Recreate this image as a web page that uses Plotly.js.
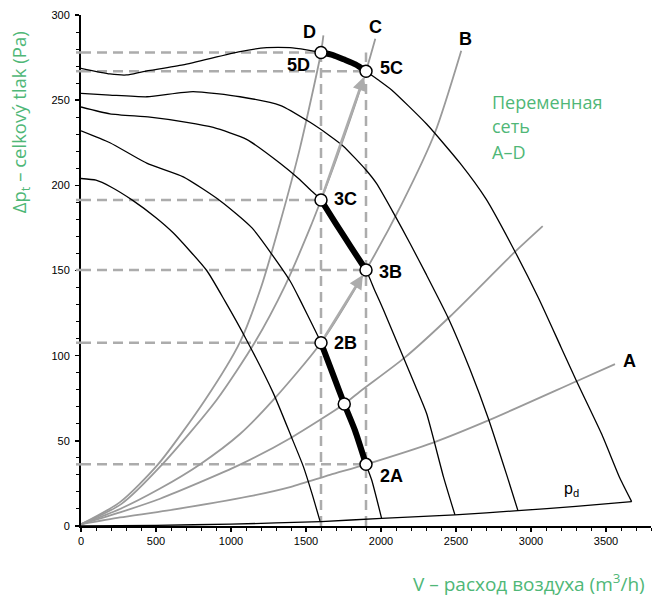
<!DOCTYPE html>
<html><head><meta charset="utf-8">
<script src="https://cdn.plot.ly/plotly-3.0.1.min.js"></script>
<style>html,body{margin:0;padding:0;background:#fff}</style>
</head><body>
<div id="chart" style="width:655px;height:597px"></div>
<script>
// ---- Fan characteristic curves (speed steps 1..5), V [m3/h] vs dp_t [Pa]
const fan1X = [0, 100, 200, 347, 500, 616, 838, 960, 1093, 1282, 1404, 1482, 1540, 1593];
const fan1Y = [204, 203, 199, 191, 181, 172, 150, 132, 111, 78, 52, 35, 19, 3];
const fan2X = [0, 193, 438, 682, 927, 1140, 1393, 1470, 1549, 1600, 1680, 1755, 1827, 1900, 1938, 2004];
const fan2Y = [232, 225, 213, 205, 191, 175, 144, 131, 117, 107.6, 89, 71.6, 56, 36.2, 27, 4.5];
const fan3X = [0, 193, 460, 705, 882, 1104, 1327, 1450, 1527, 1600, 1700, 1800, 1900, 1960, 2016, 2149, 2230, 2304, 2416, 2493];
const fan3Y = [246, 242, 240, 237, 234, 227, 213, 204, 197.5, 191.4, 177.4, 163.7, 150.3, 138, 127, 99, 82, 66, 29, 6.5];
const fan4X = [0, 193, 440, 747, 1060, 1327, 1527, 1660, 1749, 1900, 1971, 2082, 2193, 2300, 2449, 2593, 2716, 2838, 2913];
const fan4Y = [254, 253, 252, 255, 252, 247, 237, 229, 223, 209, 201, 184, 166, 148, 122, 92, 63, 30, 9];
const fan5X = [0, 193, 305, 415, 680, 1060, 1238, 1393, 1504, 1600, 1680, 1750, 1830, 1900, 1980, 2071, 2304, 2527, 2700, 2870, 3049, 3200, 3304, 3471, 3593, 3671];
const fan5Y = [268.7, 265.4, 264.8, 266.8, 270.7, 278.5, 280.8, 280.8, 279.5, 278, 276.5, 274, 271, 267, 262, 256, 236, 213, 192, 165, 134, 105, 85, 54, 28, 14.3];

// ---- Operating ranges (thick segments)
const op2X = [1600, 1680, 1755, 1827, 1900];
const op2Y = [107.6, 89, 71.6, 56, 36.2];
const op3X = [1600, 1700, 1800, 1900];
const op3Y = [191.4, 177.4, 163.7, 150.3];
const op5X = [1600, 1680, 1750, 1830, 1900];
const op5Y = [278, 276.5, 274, 271, 267];

// ---- Dynamic pressure p_d
const pdX = [0, 500, 1000, 1600, 2004, 2493, 2913, 3300, 3671];
const pdY = [0, 0.4, 1.1, 2.6, 4.5, 6.5, 9, 11.5, 14.3];

// ---- System (network) curves A..D and an intermediate one
const sysDX = [0, 260, 512, 827, 1060, 1200, 1327, 1460, 1600, 1616];
const sysDY = [1, 14, 36, 74, 108, 140, 178, 222, 278, 288];
const sysCX = [0, 270, 540, 904, 1160, 1360, 1527, 1600, 1704, 1900, 1962];
const sysCY = [1, 13, 36, 74, 108, 141, 175, 191.4, 216, 267, 286];
const sysBX = [0, 260, 527, 790, 1060, 1282, 1600, 1900, 2138, 2360, 2535];
const sysBY = [1, 10, 22, 36, 54, 74, 107.6, 150.3, 189, 231, 279];
const sysMX = [0, 260, 527, 1060, 1404, 1755, 1860, 2160, 2460, 2882, 3078];
const sysMY = [1, 8, 16, 36, 52, 71.6, 79, 99, 123, 160, 176];
const sysAX = [0, 260, 571, 1127, 1400, 1660, 1900, 2349, 2716, 3304, 3560];
const sysAY = [1, 5, 9, 17.5, 23, 30, 36.2, 49, 62, 85, 95];

// ---- Operating points
const ptNames = ['5D', '5C', '3C', '3B', '2B', 'mid', '2A'];
const ptX = [1600, 1900, 1600, 1900, 1600, 1755, 1900];
const ptY = [278, 267, 191.4, 150.3, 107.6, 71.6, 36.2];

// ---- Reference (dashed) lines: horizontal levels and their end flow
const hLevelY = [278, 267, 191.4, 150.3, 107.6, 36.2];
const hLevelX = [1600, 1900, 1600, 1900, 1600, 1900];
const vLineX = [1600, 1900];
const vLineTop = [278, 278];

// ---- Arrows (from -> to)
const arrFromX = [1600, 1600], arrFromY = [107.6, 191.4];
const arrToX = [1900, 1900], arrToY = [150.3, 267];

// ---- Point / curve labels
const lblText = ['D', 'C', 'B', 'A', '5D', '5C', '3C', '3B', '2B', '2A'];
const lblX = [1523, 1960, 2560, 3657, 1453, 2070, 1760, 2060, 1760, 2067];
const lblY = [290.3, 293, 286.2, 96.6, 270.7, 268.6, 192, 149.4, 107.2, 29.6];

const GREEN = '#4fb777';
const GRAY_SYS = '#9a9a9a';
const GRAY_DASH = '#acacac';
const DASH = '10px,6px';

const traces = [];

// dashed reference lines
hLevelY.forEach((y, i) => {
  traces.push({x: [0, hLevelX[i]], y: [y, y], mode: 'lines', hoverinfo: 'skip',
    line: {color: GRAY_DASH, width: 2.5, dash: DASH}});
});
vLineX.forEach((x, i) => {
  traces.push({x: [x, x], y: [0, vLineTop[i]], mode: 'lines', hoverinfo: 'skip',
    line: {color: GRAY_DASH, width: 2.5, dash: DASH}});
});

// system curves
[[sysDX, sysDY], [sysCX, sysCY], [sysBX, sysBY], [sysMX, sysMY], [sysAX, sysAY]].forEach(([x, y]) => {
  traces.push({x, y, mode: 'lines', hoverinfo: 'skip',
    line: {color: GRAY_SYS, width: 1.8, shape: 'spline', smoothing: 0.7}});
});

// fan curves
[[fan1X, fan1Y], [fan2X, fan2Y], [fan3X, fan3Y], [fan4X, fan4Y], [fan5X, fan5Y], [pdX, pdY]].forEach(([x, y]) => {
  traces.push({x, y, mode: 'lines', hoverinfo: 'skip',
    line: {color: '#000', width: 1.3, shape: 'spline', smoothing: 0.55}});
});

// thick operating segments
[[op2X, op2Y], [op3X, op3Y], [op5X, op5Y]].forEach(([x, y]) => {
  traces.push({x, y, mode: 'lines', hoverinfo: 'skip',
    line: {color: '#000', width: 6, shape: 'spline', smoothing: 0.6}});
});

// operating points
traces.push({x: ptX, y: ptY, mode: 'markers', hoverinfo: 'skip',
  marker: {symbol: 'circle', size: 12, color: '#fff', line: {color: '#000', width: 1.5}}});

const annotations = [];
arrToX.forEach((x, i) => {
  annotations.push({x: x, y: arrToY[i], ax: arrFromX[i], ay: arrFromY[i],
    xref: 'x', yref: 'y', axref: 'x', ayref: 'y', text: '', showarrow: true,
    arrowhead: 2, arrowsize: 1.1, arrowwidth: 2.5, arrowcolor: GRAY_DASH,
    standoff: 6, startstandoff: 6});
});
lblText.forEach((t, i) => {
  annotations.push({x: lblX[i], y: lblY[i], xref: 'x', yref: 'y', text: t, showarrow: false,
    xanchor: 'center', yanchor: 'middle',
    font: {family: 'Liberation Sans, Arial', size: 18, color: '#000', weight: 'bold'}});
});
annotations.push({x: 3273, y: 21.7, xref: 'x', yref: 'y', text: 'p<sub>d</sub>', showarrow: false,
  xanchor: 'center', yanchor: 'middle', font: {family: 'Liberation Sans, Arial', size: 16, color: '#000'}});

// green legend text
const noteLines = ['Переменная', 'сеть', 'A–D'];
const noteY = [249.0, 235.0, 219.7];
noteLines.forEach((t, i) => {
  annotations.push({x: 2727, y: noteY[i], xref: 'x', yref: 'y', text: t, showarrow: false,
    xanchor: 'left', yanchor: 'middle', font: {family: 'Open Sans', size: 18, color: GREEN}});
});

// axis titles
annotations.push({x: -0.107, y: 0.79, xref: 'paper', yref: 'paper', textangle: -90,
  text: 'Δp<sub>t</sub> – celkový tlak (Pa)', showarrow: false, xanchor: 'center', yanchor: 'middle',
  font: {family: 'Open Sans', size: 18.5, color: GREEN}});
annotations.push({x: 0.993, y: -0.1115, xref: 'paper', yref: 'paper',
  text: 'V – расход воздуха (m<sup>3</sup>/h)', showarrow: false, xanchor: 'right', yanchor: 'middle',
  font: {family: 'Open Sans', size: 19, color: GREEN}});

// small dash stubs left of the y axis
const shapes = hLevelY.map(y => ({type: 'line', xref: 'paper', yref: 'y', x0: -0.0088, x1: 0, y0: y, y1: y,
  line: {color: GRAY_DASH, width: 2.5}}));

const axisCommon = {
  showgrid: false, zeroline: false, showline: true, linecolor: '#000', linewidth: 2,
  ticks: 'outside', ticklen: 4, tickwidth: 1.5, tickcolor: '#000',
  tickfont: {family: 'Liberation Sans, Arial', size: 11, color: '#000'},
  fixedrange: true
};

const layout = {
  width: 655, height: 597,
  margin: {l: 81, r: 4, t: 15, b: 71},
  paper_bgcolor: '#fff', plot_bgcolor: '#fff',
  showlegend: false,
  xaxis: Object.assign({}, axisCommon, {range: [0, 3800], tick0: 0, dtick: 500,
    minor: {dtick: 100, ticks: 'outside', ticklen: 3, tickwidth: 1, tickcolor: '#000'}}),
  yaxis: Object.assign({}, axisCommon, {range: [0, 300], tick0: 0, dtick: 50, ticklabelstandoff: 3,
    minor: {dtick: 10, ticks: 'outside', ticklen: 3, tickwidth: 1, tickcolor: '#000'}}),
  annotations, shapes
};

Plotly.newPlot('chart', traces, layout, {displayModeBar: false, staticPlot: true});
</script>
</body></html>
